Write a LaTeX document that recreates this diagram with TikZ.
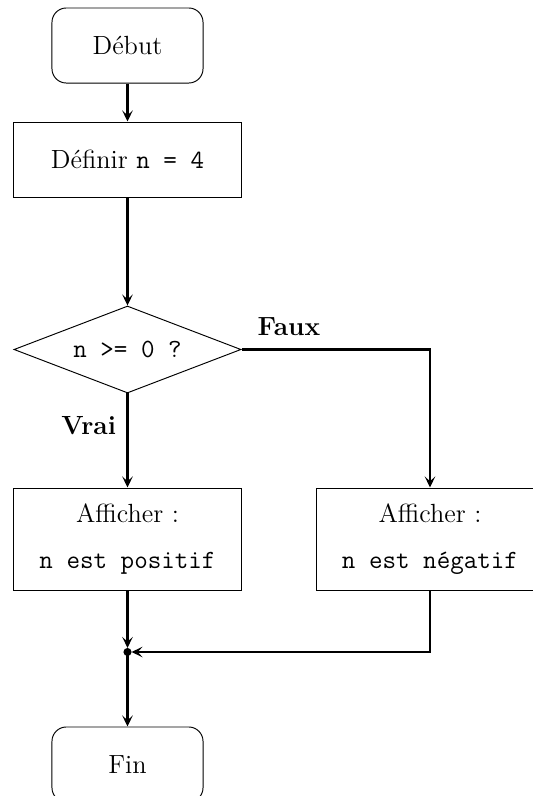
\documentclass[tikz,border=0pt]{standalone}
\usetikzlibrary{shapes.geometric,arrows.meta}
\begin{document}
\begin{tikzpicture}[x=0.4184pt,y=-0.4184pt,
  every node/.style={font=\fontsize{11}{13.5}\selectfont},
  term/.style={draw,thin,rounded corners=6pt,minimum width=63.2pt,minimum height=31.4pt,inner sep=0pt},
  proc/.style={draw,thin,minimum width=95pt,minimum height=31.4pt,inner sep=0pt},
  proc2/.style={draw,thin,minimum width=95pt,minimum height=42.7pt,inner sep=0pt,align=center},
  dec/.style={draw,thin,diamond,aspect=2.6,minimum width=95pt,minimum height=36.4pt,inner sep=0pt},
  conn/.style={draw,line width=0.9pt,-{Stealth[length=4.6pt,width=4.4pt,inset=2pt]}},
  lab/.style={font=\fontsize{11}{13.5}\selectfont\bfseries}]
\useasboundingbox (0,0) rectangle (533,796);
\node[term] (debut) at (127.5,45.5) {Début};
\node[proc] (def) at (127.5,159.5) {Définir \texttt{n = 4}};
\node[dec] (test) at (127.5,349.5) {\texttt{n >= 0 ?}};
\node[proc2] (pos) at (127.5,539) {Afficher :\\[5.5pt]\texttt{n est positif}};
\node[proc2] (neg) at (430,539) {Afficher :\\[5.5pt]\texttt{n est négatif}};
\coordinate (j) at (127.5,652);
\node[term] (fin) at (127.5,764.5) {Fin};
\fill (j) circle (1.7pt);
\draw[conn] (debut) -- (def);
\draw[conn] (def) -- (test);
\draw[conn] (test.south) -- node[lab,left,pos=0.34,xshift=-1pt] (vrai) {Vrai} (pos.north);
\draw[conn] (test.east) -| node[lab,pos=0,anchor=south west,xshift=3pt,yshift=2pt] (faux) {Faux} (neg.north);
\draw[conn,shorten >=1.7pt] (pos.south) -- (j);
\draw[conn,shorten >=1.7pt] (neg.south) |- (j);
\draw[conn] (j) -- (fin.north);
\end{tikzpicture}
\end{document}
